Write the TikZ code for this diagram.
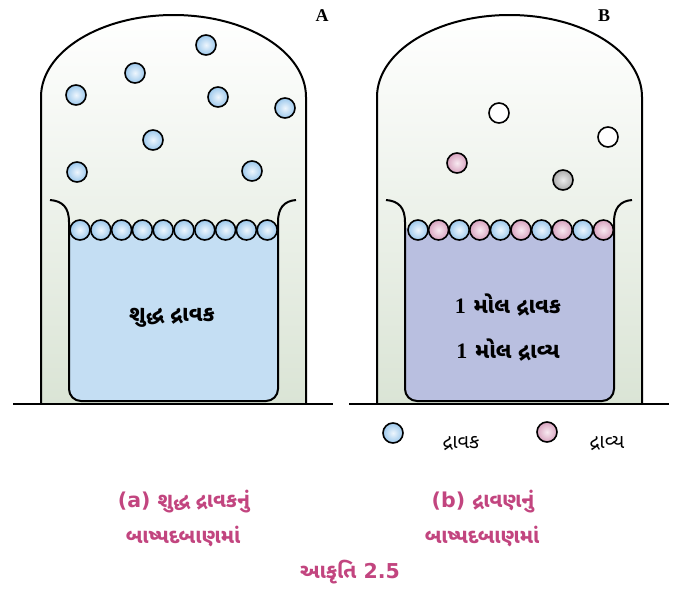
\documentclass[tikz,border=0pt]{standalone}
\usepackage{fontspec}
\setmainfont{DejaVu Sans}
\newfontfamily\guj[Script=Gujarati]{Noto Sans Gujarati UI}
\newfontfamily\serifb{Liberation Serif}
\usetikzlibrary{calc}

\definecolor{liqA}{HTML}{C4DEF3}
\definecolor{liqB}{HTML}{B9BFE0}
\definecolor{verre}{HTML}{DAE4D5}
\definecolor{molbleu}{HTML}{9CC8EC}
\definecolor{molbleuC}{HTML}{EEF6FD}
\definecolor{molrose}{HTML}{D8A3BF}
\definecolor{molroseC}{HTML}{F8EAF1}
\definecolor{titre}{HTML}{C2457F}

\begin{document}
\begin{tikzpicture}[x=1pt,y=1pt,
    mol/.style={circle, draw=black, line width=1.6pt, minimum size=20pt, inner sep=0pt},
    bleue/.style={mol, inner color=molbleuC, outer color=molbleu},
    rose/.style={mol, inner color=molroseC, outer color=molrose},
    grise/.style={mol, inner color=gray!15, outer color=gray!65},
    vide/.style={mol, fill=white},
    paroi/.style={line width=2pt, line join=round},
    texteliq/.style={font=\bfseries\fontsize{22}{26}\selectfont},
    legende/.style={text=titre, font=\bfseries\fontsize{20.5}{24}\selectfont}]

  \useasboundingbox (0,0) rectangle (674,-597);

  % Les deux cloches et les bechers
  \foreach \dx/\liq in {0/liqA, 336/liqB} {
    \begin{scope}[xshift=\dx]
      \fill[top color=white, bottom color=verre] (41,-404) -- (41,-97)
        arc[start angle=180, end angle=0, x radius=132.5, y radius=82] -- (306,-404) -- cycle;
      \fill[\liq] (69,-228) [rounded corners=12]-- (69,-401) -- (278,-401) [sharp corners]-- (278,-228) -- cycle;
      \draw[paroi] (50,-200) .. controls (63,-201) and (69,-208) .. (69,-222)
        [rounded corners=12]-- (69,-401) -- (278,-401) [sharp corners]-- (278,-222)
        .. controls (278,-208) and (284,-201) .. (296,-200);
      \draw[paroi] (41,-404) -- (41,-97)
        arc[start angle=180, end angle=0, x radius=132.5, y radius=82] -- (306,-404);
      \draw[paroi] (13,-404) -- (333,-404);
    \end{scope}
  }
  \node[font=\serifb\bfseries\fontsize{18}{20}\selectfont] (lettreA) at (322,-16) {A};
  \node[font=\serifb\bfseries\fontsize{18}{20}\selectfont] (lettreB) at (604,-16) {B};

  % Vapeur au-dessus du solvant pur
  \foreach \x/\y [count=\i] in {76/95, 135/73, 206/45, 218/97, 285/108, 153/140, 77/172, 252/171}
    \node[bleue] (gA\i) at (\x,-\y) {};
  \foreach \i in {0,...,9}
    \node[bleue] (sA\i) at ({80+20.8*\i},-230) {};

  % Vapeur au-dessus de la solution
  \node[vide] (gB1) at (499,-113) {};
  \node[vide] (gB2) at (608,-137) {};
  \node[rose] (gB3) at (457,-163) {};
  \node[grise] (gB4) at (563,-180) {};
  \foreach \i in {0,2,...,8}
    \node[bleue] (sB\i) at ({418+20.6*\i},-230) {};
  \foreach \i in {1,3,...,9}
    \node[rose] (sB\i) at ({418+20.6*\i},-230) {};

  % Textes dans les liquides
  \node[texteliq] (pur) at (172,-318) {\guj શુદ્ધ દ્રાવક};
  \node[texteliq] (sol1) at (508,-305) {{\serifb 1} {\guj મોલ દ્રાવક}};
  \node[texteliq] (sol2) at (508,-350) {{\serifb 1} {\guj મોલ દ્રાવ્ય}};

  % Legende des particules
  \node[bleue] (leg1) at (393,-433) {};
  \node[font=\guj\fontsize{20}{24}\selectfont] (tleg1) at (461,-444) {દ્રાવક};
  \node[rose] (leg2) at (547,-432) {};
  \node[font=\guj\fontsize{20}{24}\selectfont] (tleg2) at (607,-444) {દ્રાવ્ય};

  % Sous-titres
  \node[legende] (capa1) at (184,-502) {(a) {\guj શુદ્ધ દ્રાવકનું}};
  \node[legende] (capa2) at (183,-537) {\guj બાષ્પદબાણમાં};
  \node[legende] (capb1) at (483,-502) {(b) {\guj દ્રાવણનું}};
  \node[legende] (capb2) at (482,-537) {\guj બાષ્પદબાણમાં};
  \node[legende] (fig) at (350,-572) {{\guj આકૃતિ} 2.5};
\end{tikzpicture}
\end{document}
